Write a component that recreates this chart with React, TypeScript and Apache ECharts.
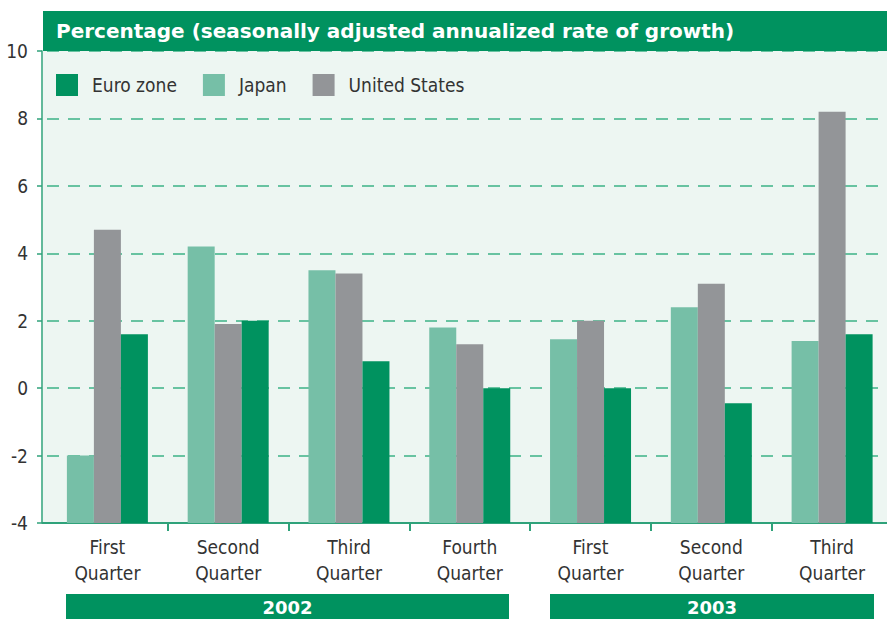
import React, { useEffect, useRef } from "react";
import * as echarts from "echarts";

const categories = [
  "First\nQuarter",
  "Second\nQuarter",
  "Third\nQuarter",
  "Fourth\nQuarter",
  "First\nQuarter",
  "Second\nQuarter",
  "Third\nQuarter",
];
const euroZone = [1.6, 2.0, 0.8, 0.0, 0.0, -0.45, 1.6];
const japan = [-2.0, 4.2, 3.5, 1.8, 1.45, 2.4, 1.4];
const unitedStates = [4.7, 1.9, 3.4, 1.3, 2.0, 3.1, 8.2];
const yMin = -4;
const yMax = 10;
const yInterval = 2;
const years = ["2002", "2003"];
const title = "Percentage (seasonally adjusted annualized rate of growth)";

const NARROW = "'DejaVu Sans Condensed', 'DejaVu Sans', sans-serif";
const BOLD = "'DejaVu Sans', 'Liberation Sans', sans-serif";
const GREEN = "#00925f";
const LIGHT = "#76bfa7";
const GRAY = "#939598";
const AXIS = "#2fa27a";
const BG = "#edf6f2";

export default function App() {
  const ref = useRef<HTMLDivElement>(null);
  useEffect(() => {
    if (!ref.current) return;
    const chart = echarts.init(ref.current, undefined, { renderer: "svg" });
    const shift = (arr: number[]) => arr.map((v) => v - yMin);
    chart.setOption({
      animation: false,
      grid: {
        left: 47,
        top: 51,
        width: 845.5,
        height: 472,
        show: true,
        backgroundColor: BG,
        borderWidth: 0,
      },
      legend: {
        data: ["Euro zone", "Japan", "United States"],
        left: 56,
        top: 74,
        padding: 0,
        icon: "rect",
        itemWidth: 22,
        itemHeight: 22,
        itemGap: 26,
        textStyle: {
          fontFamily: NARROW,
          fontSize: 19,
          color: "#333",
          padding: [0, 0, 0, 9],
        },
      },
      xAxis: {
        type: "category",
        data: categories,
        axisLine: { show: true, onZero: false, lineStyle: { color: AXIS, width: 2 } },
        axisTick: {
          show: true,
          length: 8,
          lineStyle: { color: AXIS, width: 2 },
          interval: (i: number) => i !== 0,
        },
        axisLabel: {
          fontFamily: NARROW,
          fontSize: 19,
          lineHeight: 26,
          color: "#333",
          margin: 11,
        },
      },
      yAxis: {
        type: "value",
        min: 0,
        max: yMax - yMin,
        interval: yInterval,
        offset: 5,
        axisLine: { show: true, lineStyle: { color: AXIS, width: 1.5 } },
        axisTick: { show: true, length: 5, lineStyle: { color: AXIS, width: 1.5 } },
        axisLabel: {
          fontFamily: NARROW,
          fontSize: 19,
          color: "#333",
          margin: 14,
          formatter: (v: number) => String(v + yMin),
        },
        splitLine: {
          show: true,
          lineStyle: { color: "#3db386", width: 1.5, type: [12, 9] },
        },
      },
      series: [
        {
          name: "Japan",
          type: "bar",
          data: shift(japan),
          barWidth: 27,
          barGap: "0%",
          itemStyle: { color: LIGHT },
        },
        {
          name: "United States",
          type: "bar",
          data: shift(unitedStates),
          barWidth: 27,
          barGap: "0%",
          itemStyle: { color: GRAY },
        },
        {
          name: "Euro zone",
          type: "bar",
          data: shift(euroZone),
          barWidth: 27,
          barGap: "0%",
          itemStyle: { color: GREEN },
        },
      ],
      graphic: [
        {
          type: "rect",
          z: 0,
          shape: { x: 42.75, y: 51, width: 4.5, height: 471 },
          style: { fill: BG },
        },
        {
          type: "line",
          z: 1,
          shape: { x1: 42, y1: 523, x2: 48, y2: 523 },
          style: { stroke: AXIS, lineWidth: 2 },
        },
        {
          type: "rect",
          z: 100,
          shape: { x: 43, y: 11, width: 850, height: 40 },
          style: { fill: GREEN },
        },
        {
          type: "text",
          z: 101,
          x: 56,
          y: 31,
          style: {
            text: title,
            fill: "#fff",
            font: `bold 20px ${BOLD}`,
            verticalAlign: "middle",
            align: "left",
          },
        },
        {
          type: "rect",
          z: 100,
          shape: { x: 66, y: 594, width: 443, height: 25 },
          style: { fill: GREEN },
        },
        {
          type: "text",
          z: 101,
          x: 287.5,
          y: 607,
          style: {
            text: years[0],
            fill: "#fff",
            font: `bold 18px ${BOLD}`,
            align: "center",
            verticalAlign: "middle",
          },
        },
        {
          type: "rect",
          z: 100,
          shape: { x: 550, y: 594, width: 324, height: 25 },
          style: { fill: GREEN },
        },
        {
          type: "text",
          z: 101,
          x: 712,
          y: 607,
          style: {
            text: years[1],
            fill: "#fff",
            font: `bold 18px ${BOLD}`,
            align: "center",
            verticalAlign: "middle",
          },
        },
      ],
    });
    return () => chart.dispose();
  }, []);
  return (
    <div
      style={{
        position: "absolute",
        left: 0,
        top: 0,
        width: 887,
        height: 619,
        overflow: "hidden",
        background: "#fff",
      }}
    >
      <div ref={ref} style={{ width: 893, height: 619 }} />
    </div>
  );
}
